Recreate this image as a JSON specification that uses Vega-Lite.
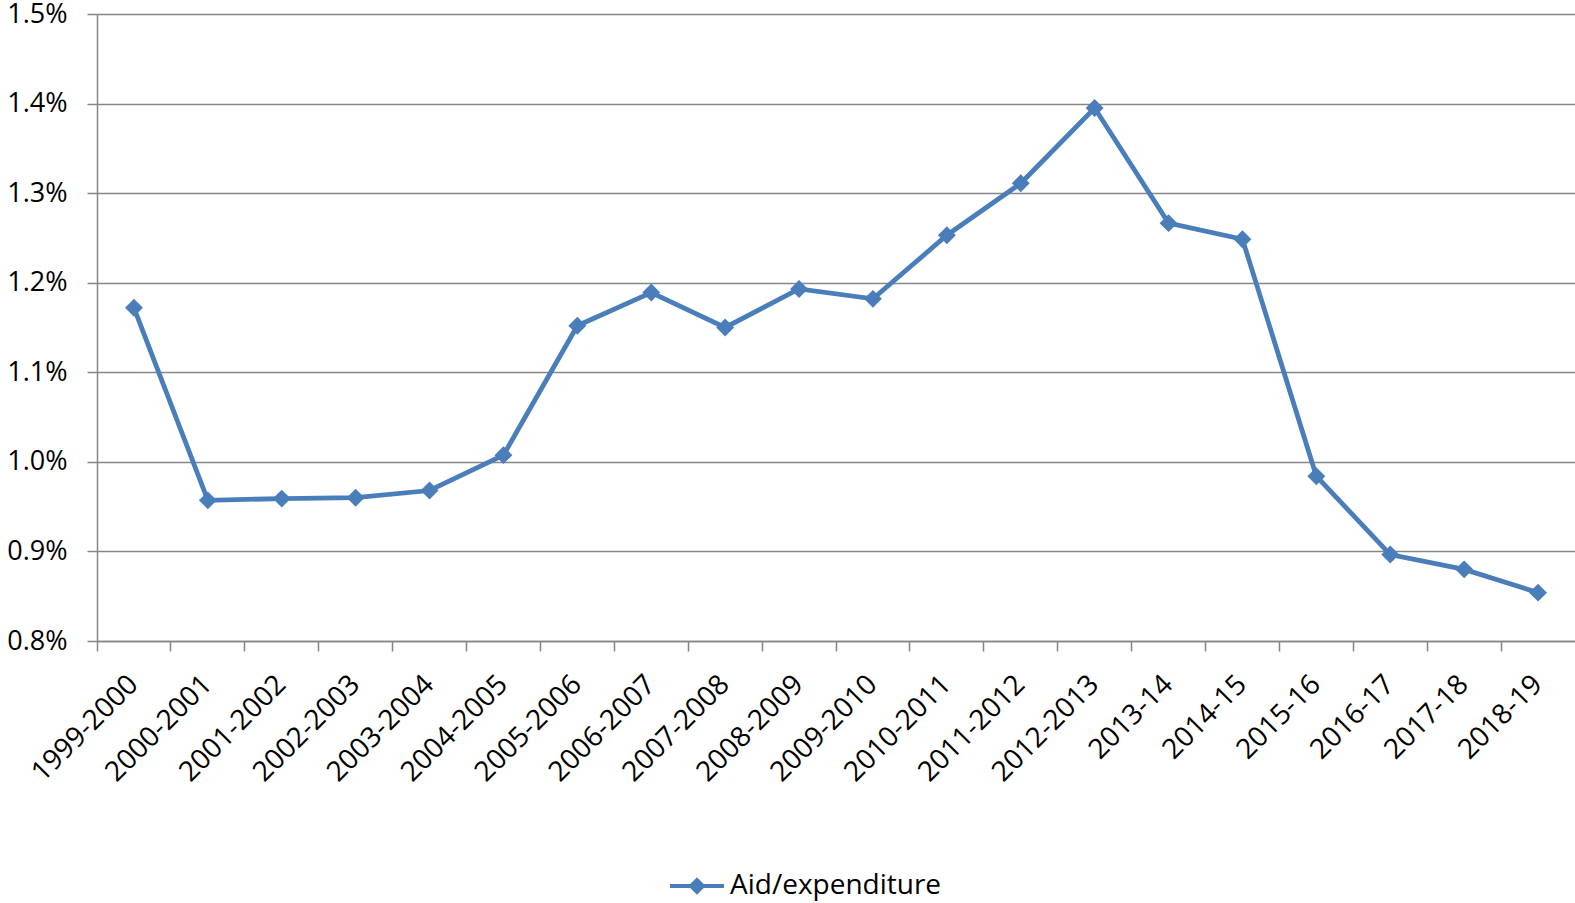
{
  "$schema": "https://vega.github.io/schema/vega-lite/v6.json",
  "autosize": {"type": "none"},
  "padding": {"left": 97, "top": 14, "right": 0, "bottom": 262},
  "width": 1478,
  "height": 627,
  "background": "white",
  "config": {
    "view": {"stroke": null},
    "font": "Open Sans",
    "axis": {"labelFont": "Open Sans", "labelColor": "#000000"},
    "legend": {"labelFont": "Open Sans", "labelColor": "#000000"}
  },
  "data": {
    "values": [
      {"year": "1999-2000", "value": 0.01172, "series": "Aid/expenditure"},
      {"year": "2000-2001", "value": 0.00957, "series": "Aid/expenditure"},
      {"year": "2001-2002", "value": 0.00959, "series": "Aid/expenditure"},
      {"year": "2002-2003", "value": 0.00960, "series": "Aid/expenditure"},
      {"year": "2003-2004", "value": 0.00968, "series": "Aid/expenditure"},
      {"year": "2004-2005", "value": 0.010075, "series": "Aid/expenditure"},
      {"year": "2005-2006", "value": 0.01152, "series": "Aid/expenditure"},
      {"year": "2006-2007", "value": 0.01189, "series": "Aid/expenditure"},
      {"year": "2007-2008", "value": 0.01150, "series": "Aid/expenditure"},
      {"year": "2008-2009", "value": 0.01193, "series": "Aid/expenditure"},
      {"year": "2009-2010", "value": 0.01182, "series": "Aid/expenditure"},
      {"year": "2010-2011", "value": 0.01253, "series": "Aid/expenditure"},
      {"year": "2011-2012", "value": 0.01311, "series": "Aid/expenditure"},
      {"year": "2012-2013", "value": 0.01395, "series": "Aid/expenditure"},
      {"year": "2013-14", "value": 0.012665, "series": "Aid/expenditure"},
      {"year": "2014-15", "value": 0.012485, "series": "Aid/expenditure"},
      {"year": "2015-16", "value": 0.00984, "series": "Aid/expenditure"},
      {"year": "2016-17", "value": 0.008965, "series": "Aid/expenditure"},
      {"year": "2017-18", "value": 0.00880, "series": "Aid/expenditure"},
      {"year": "2018-19", "value": 0.00854, "series": "Aid/expenditure"}
    ]
  },
  "encoding": {
    "y": {
      "field": "value",
      "type": "quantitative",
      "scale": {"domain": [0.008, 0.015], "zero": false, "nice": false},
      "axis": {
        "title": null,
        "values": [0.008, 0.009, 0.010, 0.011, 0.012, 0.013, 0.014, 0.015],
        "format": ".1%",
        "grid": true,
        "gridColor": "#868686",
        "gridWidth": 1.5,
        "domain": true,
        "domainColor": "#868686",
        "domainWidth": 1.5,
        "ticks": true,
        "tickSize": 10,
        "tickColor": "#868686",
        "tickWidth": 1.5,
        "labelFontSize": 27,
        "labelPadding": 20,
        "labelBaseline": "middle"
      }
    }
  },
  "layer": [
    {
      "mark": {"type": "line", "strokeWidth": 4.8},
      "encoding": {
        "x": {
          "field": "year",
          "type": "nominal",
          "sort": null,
          "bandPosition": 0.5,
          "scale": {"type": "band", "paddingInner": 0, "paddingOuter": 0},
          "axis": {
            "orient": "bottom",
            "title": null,
            "grid": false,
            "domain": false,
            "ticks": false,
            "tickSize": 0,
            "labelAngle": -45,
            "labelAlign": "right",
            "labelBaseline": "middle",
            "labelFontSize": 28,
            "labelPadding": 39,
            "labelOffset": 0,
            "labelOverlap": false,
            "labelLimit": 300
          }
        },
        "color": {
          "field": "series",
          "type": "nominal",
          "scale": {"range": ["#4A7EBB"]},
          "legend": {
            "title": null,
            "orient": "none",
            "legendX": 571,
            "legendY": 843,
            "padding": 0,
            "symbolType": "M-1,0L1,0M0,-0.22L0.22,0L0,0.22L-0.22,0Z",
            "symbolSize": 2916,
            "symbolStrokeWidth": 4,
            "labelFontSize": 28,
            "labelOffset": 4,
            "labelLimit": 400,
            "encode": {
              "symbols": {
                "update": {
                  "fill": {"value": "#4A7EBB"},
                  "stroke": {"value": "#4A7EBB"},
                  "strokeWidth": {"value": 4},
                  "opacity": {"value": 1}
                }
              }
            }
          }
        }
      }
    },
    {
      "mark": {"type": "point", "shape": "diamond", "filled": true, "size": 320, "opacity": 1, "color": "#4A7EBB"},
      "encoding": {
        "x": {
          "field": "year",
          "type": "nominal",
          "sort": null,
          "bandPosition": 0.5,
          "scale": {"type": "band", "paddingInner": 0, "paddingOuter": 0},
          "axis": {
            "orient": "bottom",
            "title": null,
            "grid": false,
            "labels": false,
            "domain": true,
            "domainColor": "#868686",
            "domainWidth": 1.5,
            "ticks": true,
            "tickSize": 10,
            "tickColor": "#868686",
            "tickWidth": 1.5,
            "bandPosition": 0
          }
        }
      }
    }
  ],
  "resolve": {"axis": {"x": "independent"}}
}
